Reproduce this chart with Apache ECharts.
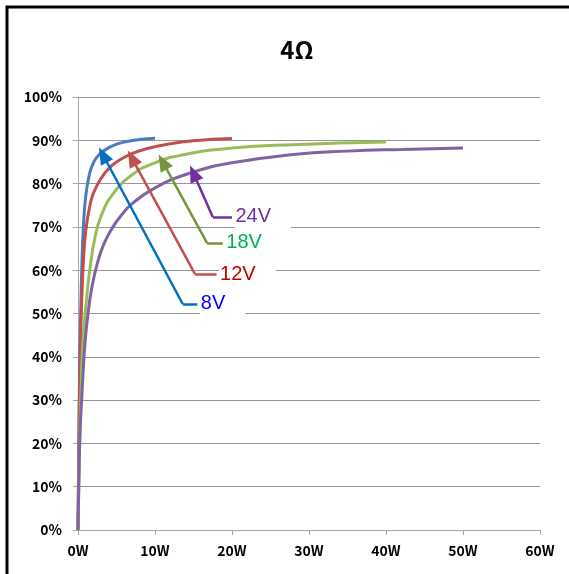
<!DOCTYPE html>
<html lang="en">
<head>
    <meta charset="UTF-8">
    <script type="text/javascript" src="https://cdn.jsdelivr.net/npm/echarts@6/dist/echarts.min.js"></script>
    <style>
        html, body { margin: 0; padding: 0; background: #fff; }
        #main { width: 569px; height: 574px; }
    </style>
</head>
<body>
    <div id="main"></div>

    <script type="text/javascript">
        // efficiency curves, [power W, efficiency %]
        var names = ['8V', '12V', '18V', '24V'];
        var curve8V = [[0,0],[0.1,20],[0.2,35],[0.35,50],[0.5,61],[0.7,70],[1,77],[1.5,82.3],[2,84.8],[2.5,86.2],[3,87.1],[4,88.3],[5,89.1],[6,89.6],[8,90.2],[10,90.5]];
        var curve12V = [[0,0],[0.15,25],[0.3,42],[0.5,54],[0.7,62],[1,69],[1.5,74.5],[2,77.8],[3,81.2],[4,83.5],[5,85],[7,86.9],[9,88.1],[12,89.2],[15,89.9],[20,90.4]];
        var curve18V = [[0,0],[0.2,20],[0.4,33],[0.65,44],[1.15,54],[1.6,61],[2.2,67.5],[3,72.5],[4.5,77.5],[7,82],[10,84.8],[13.5,86.6],[20,88.2],[28,89],[40,89.6]];
        var curve24V = [[0,0],[0.15,15],[0.3,24],[0.5,31],[0.65,36],[0.9,43],[1.3,50],[1.8,56],[2.5,61.5],[3.3,65.8],[4.4,69.6],[5.5,72.4],[7,75.3],[10,79],[14.5,82.4],[20,84.8],[28,86.7],[35,87.5],[42,87.9],[50,88.2]];

        // callouts: arrow tip on the curve, elbow, end of the short leg
        var calloutTip = [[3.25,86.6],[7,85.9],[11,85],[15,82.4]];
        var calloutElbow = [[13.6,52.2],[15.2,59.1],[16.75,66.3],[17.5,72.3]];
        var calloutEnd = [[15.5,52.2],[18,59.1],[18.8,66.3],[20,72.3]];

        var xTicks = [0, 60, 10];
        var yTicks = [0, 100, 10];

        var lineColors = ['#4a7ebb', '#c0504d', '#9bbb59', '#8064a2'];
        var arrowColors = ['#0070c0', '#c0504d', '#77933c', '#7030a0'];
        var textColors = ['#0000ff', '#c00000', '#00b050', '#7030a0'];

        var curves = [curve8V, curve12V, curve18V, curve24V];

        var series = curves.map(function (d, i) {
            return {
                name: names[i],
                type: 'line',
                data: d,
                smooth: 0.5,
                showSymbol: false,
                lineStyle: { color: lineColors[i], width: 3 },
                itemStyle: { color: lineColors[i] },
                markLine: {
                    silent: true,
                    symbol: ['none', 'none'],
                    lineStyle: { color: arrowColors[i], width: 2.5, type: 'solid' },
                    label: { show: false },
                    data: [
                        [{ coord: calloutElbow[i], symbol: 'none' },
                         { coord: calloutTip[i], symbol: 'triangle', symbolSize: [14, 17] }],
                        [{ coord: calloutEnd[i], symbol: 'none' },
                         { coord: calloutElbow[i], symbol: 'none' }]
                    ]
                },
                markPoint: {
                    silent: true,
                    symbol: 'circle',
                    symbolSize: 1,
                    itemStyle: { color: 'rgba(0,0,0,0)' },
                    label: {
                        show: true,
                        position: 'right',
                        distance: 2,
                        formatter: names[i],
                        color: textColors[i],
                        fontFamily: 'Liberation Sans, Arial, sans-serif',
                        fontSize: 20,
                        backgroundColor: '#fff',
                        padding: [4, 20, 4, 1]
                    },
                    data: [{ coord: calloutEnd[i] }]
                }
            };
        });

        var myChart = echarts.init(document.getElementById('main'));
        var option = {
            animation: false,
            title: {
                text: '4Ω',
                left: 292,
                top: 33,
                textAlign: 'center',
                textStyle: {
                    fontFamily: 'Noto Sans CJK KR, sans-serif',
                    fontSize: 24,
                    fontWeight: 'bold',
                    color: '#000'
                }
            },
            grid: { left: 78, right: 29, top: 97, bottom: 44 },
            xAxis: {
                type: 'value',
                min: xTicks[0], max: xTicks[1], interval: xTicks[2],
                axisLine: { lineStyle: { color: '#a6a6a6', width: 1 } },
                axisTick: { show: true, length: 5, lineStyle: { color: '#a6a6a6' } },
                splitLine: { show: false },
                axisLabel: {
                    formatter: '{value}W',
                    margin: 14,
                    color: '#000',
                    fontWeight: 'bold',
                    fontSize: 14,
                    fontFamily: 'Noto Sans CJK KR, sans-serif'
                }
            },
            yAxis: {
                type: 'value',
                min: yTicks[0], max: yTicks[1], interval: yTicks[2],
                axisLine: { show: true, lineStyle: { color: '#a6a6a6', width: 1 } },
                axisTick: { show: true, length: 5, lineStyle: { color: '#a6a6a6' } },
                splitLine: { show: true, lineStyle: { color: '#969696', width: 1 } },
                axisLabel: {
                    formatter: '{value}%',
                    margin: 16,
                    color: '#000',
                    fontWeight: 'bold',
                    fontSize: 14,
                    fontFamily: 'Noto Sans CJK KR, sans-serif'
                }
            },
            graphic: [{
                type: 'rect',
                silent: true,
                shape: { x: 7, y: 7, width: 700, height: 700 },
                style: { fill: 'none', stroke: '#000', lineWidth: 3 }
            }],
            series: series
        };
        myChart.setOption(option);
    </script>
</body>
</html>
